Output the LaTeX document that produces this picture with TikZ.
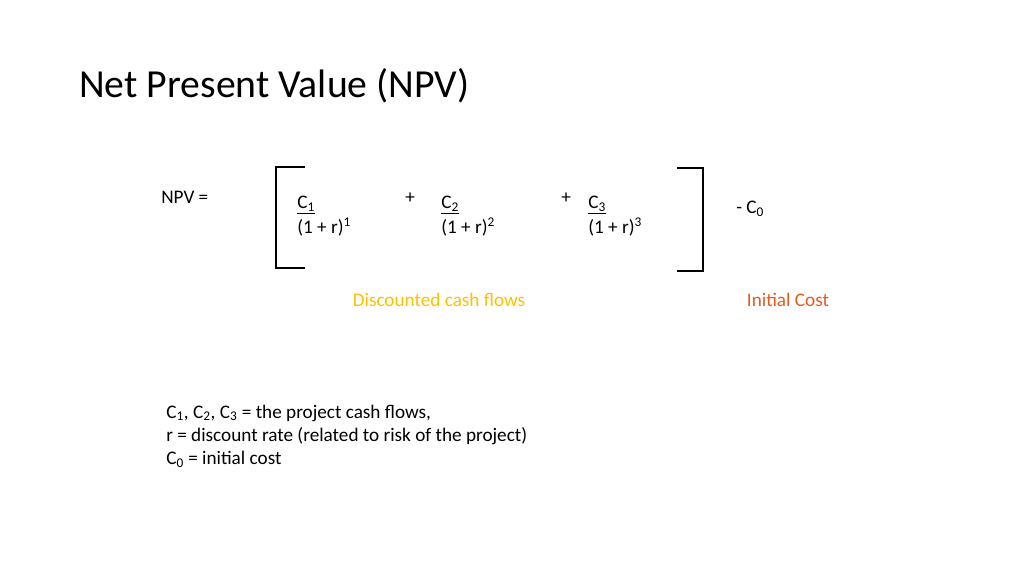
\documentclass[tikz,border=0pt]{standalone}
\usepackage{fontspec}
\setmainfont{Carlito}
\definecolor{flowyellow}{HTML}{FFC000}
\definecolor{costorange}{HTML}{E65A1E}
\tikzset{
  txt/.style={anchor=west, inner sep=0pt, font=\fontsize{14.4}{17}\selectfont},
  brk/.style={line width=1.6pt}
}
\begin{document}
\begin{tikzpicture}[x=0.75pt,y=-0.75pt]
    \useasboundingbox (0,0) rectangle (1024,576);

        % title
        \node[anchor=west, inner sep=0pt, font=\fontsize{29.8}{34}\selectfont] (title) at (79,86) {Net Present Value (NPV)};

        % brackets
        \draw[brk] (305,167) -- (276,167) -- (276,268) -- (305,268);
        \draw[brk] (677,168) -- (703,168) -- (703,271) -- (677,271);

        % formula
        \node[txt] (npv) at (161,197) {NPV =};
        \node[txt] (c1) at (297,205) {\underline{C\textsubscript{1}}};
        \node[txt] (d1) at (297,227) {(1 + r)\textsuperscript{1}};
        \node[txt] (p1) at (405,198) {+};
        \node[txt] (c2) at (441,205) {\underline{C\textsubscript{2}}};
        \node[txt] (d2) at (441,227) {(1 + r)\textsuperscript{2}};
        \node[txt] (p2) at (561,198) {+};
        \node[txt] (c3) at (588,205) {\underline{C\textsubscript{3}}};
        \node[txt] (d3) at (588,227) {(1 + r)\textsuperscript{3}};
        \node[txt] (c0) at (736,209) {- C\textsubscript{0}};

        % labels
        \node[txt, anchor=center, text=flowyellow] (disc) at (439,300) {Discounted cash flows};
        \node[txt, anchor=center, text=costorange] (cost) at (788,300) {Initial Cost};

        % legend
        \node[txt] (l1) at (166,413) {C\textsubscript{1}, C\textsubscript{2}, C\textsubscript{3} = the project cash flows,};
        \node[txt] (l2) at (166,436) {r = discount rate (related to risk of the project)};
        \node[txt] (l3) at (166,459) {C\textsubscript{0} = initial cost};
\end{tikzpicture}
\end{document}
